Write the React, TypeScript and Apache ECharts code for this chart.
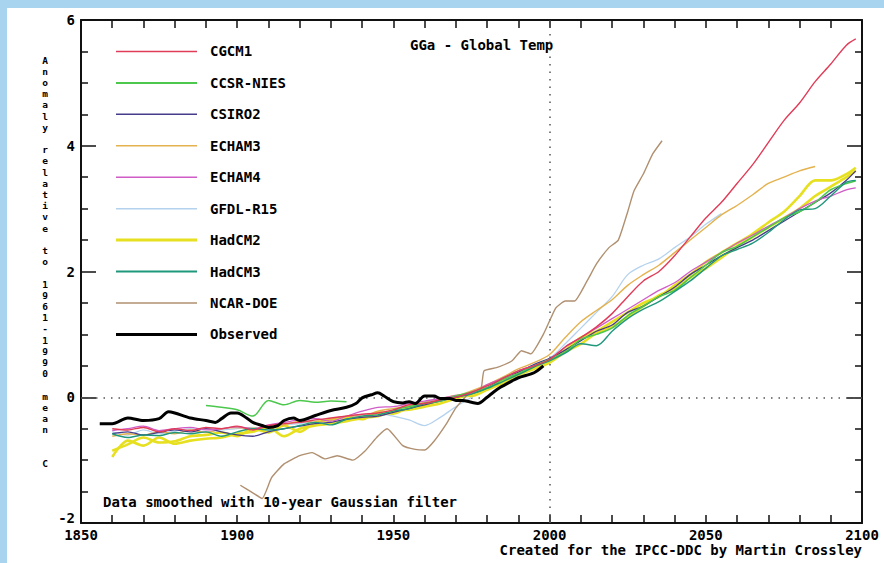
import React, { useEffect, useRef } from "react";
import * as echarts from "echarts";

// ---------- data ----------
const modelYears = [
  1860, 1865, 1870, 1875, 1880, 1885, 1890, 1895, 1900, 1905,
  1910, 1915, 1920, 1925, 1930, 1935, 1940, 1945, 1950, 1955,
  1960, 1965, 1970, 1975, 1980, 1985, 1990, 1995, 2000, 2005,
  2010, 2015, 2020, 2025, 2030, 2035, 2040, 2045, 2050, 2055,
  2060, 2065, 2070, 2075, 2080, 2085, 2090, 2095, 2098,
];

const cgcm1 = [
  -0.5, -0.52, -0.48, -0.55, -0.5, -0.53, -0.48, -0.5, -0.46, -0.52,
  -0.45, -0.42, -0.4, -0.36, -0.33, -0.3, -0.27, -0.25, -0.2, -0.12,
  -0.1, -0.04, 0.0, 0.08, 0.18, 0.3, 0.42, 0.5, 0.6, 0.8,
  0.95, 1.12, 1.33, 1.6, 1.85, 2.0, 2.25, 2.55, 2.85, 3.1,
  3.4, 3.7, 4.05, 4.4, 4.68, 5.02, 5.3, 5.6, 5.7,
];
const ccsrNies = [
  null, null, null, null, null, null, -0.13, -0.16, -0.2, -0.3,
  -0.05, -0.12, -0.05, -0.08, -0.06, -0.07, null, null, -0.2, -0.15,
  -0.1, -0.06, 0.02, 0.08, 0.15, 0.28, 0.38, 0.5, 0.6, 0.72,
  0.92, 1.0, 1.1, 1.3, 1.45, 1.6, 1.7, 1.9, 2.1, 2.3,
  2.4, 2.55, 2.7, 2.85, 2.95, 3.1, 3.3, 3.4, 3.44,
];
const csiro2 = [
  -0.58, -0.55, -0.6, -0.56, -0.52, -0.55, -0.5, -0.55, -0.6, -0.62,
  -0.55, -0.5, -0.46, -0.42, -0.4, -0.35, -0.32, -0.3, -0.24, -0.18,
  -0.12, -0.06, 0.0, 0.06, 0.15, 0.3, 0.4, 0.52, 0.62, 0.75,
  0.9, 1.05, 1.15, 1.35, 1.45, 1.6, 1.75, 1.95, 2.1, 2.25,
  2.38, 2.5, 2.65, 2.8, 2.95, 3.1, 3.25, 3.45, 3.6,
];
const echam3 = [
  -0.62, -0.58, -0.6, -0.55, -0.58, -0.52, -0.56, -0.5, -0.48, -0.5,
  -0.46, -0.44, -0.38, -0.4, -0.35, -0.3, -0.3, -0.22, -0.18, -0.14,
  -0.08, -0.02, 0.02, 0.1, 0.2, 0.32, 0.45, 0.55, 0.68, 0.95,
  1.2, 1.38, 1.55, 1.78, 1.95, 2.1, 2.3, 2.5, 2.7, 2.9,
  3.05, 3.22, 3.4, 3.5, 3.6, 3.67, null, null, null,
];
const echam4 = [
  -0.53, -0.5, -0.46, -0.53, -0.5, -0.48, -0.52, -0.5, -0.47, -0.5,
  -0.44, -0.4, -0.36, -0.34, -0.38, -0.3, -0.22, -0.16, -0.15, -0.1,
  -0.06, -0.02, 0.03, 0.06, 0.2, 0.3, 0.42, 0.5, 0.6, 0.8,
  0.95, 1.1, 1.25, 1.4, 1.55, 1.7, 1.82, 2.0, 2.15, 2.3,
  2.45, 2.58, 2.72, 2.85, 3.0, 3.12, 3.2, 3.3, 3.33,
];
const gfdlR15 = [
  -0.55, -0.6, -0.52, -0.58, -0.54, -0.5, -0.55, -0.52, -0.5, -0.48,
  -0.5, -0.44, -0.42, -0.38, -0.36, -0.32, -0.28, -0.26, -0.3, -0.36,
  -0.45, -0.32, -0.15, 0.0, 0.15, 0.28, 0.4, 0.52, 0.62, 0.85,
  1.1, 1.35, 1.6, 1.95, 2.1, 2.2, 2.38, 2.55, 2.75, 2.92,
  null, null, null, null, null, null, null, null, null,
];
const hadcm2a = [
  -0.95, -0.69, -0.77, -0.64, -0.74, -0.69, -0.66, -0.64, -0.58, -0.55,
  -0.48, -0.62, -0.5, -0.45, -0.42, -0.38, -0.33, -0.3, -0.22, -0.2,
  -0.15, -0.1, -0.02, 0.05, 0.15, 0.25, 0.38, 0.48, 0.6, 0.75,
  0.95, 1.05, 1.2, 1.35, 1.5, 1.6, 1.78, 1.95, 2.15, 2.3,
  2.45, 2.6, 2.78, 2.95, 3.2, 3.45, 3.45, 3.55, 3.65,
];
const hadcm2b = [
  -0.85, -0.75, -0.64, -0.72, -0.7, -0.62, -0.6, -0.56, -0.62, -0.5,
  -0.56, -0.45, -0.55, -0.4, -0.36, -0.32, -0.35, -0.24, -0.26, -0.16,
  -0.12, -0.05, 0.02, 0.02, 0.12, 0.22, 0.35, 0.45, 0.55, 0.72,
  0.85, 1.02, 1.12, 1.28, 1.45, 1.62, 1.72, 1.9, 2.05, 2.22,
  2.4, 2.55, 2.7, 2.85, 3.0, 3.2, 3.35, 3.5, 3.6,
];
const hadcm3 = [
  -0.58, -0.64, -0.6, -0.61, -0.56, -0.58, -0.55, -0.62, -0.55, -0.5,
  -0.52, -0.5, -0.45, -0.4, -0.44, -0.35, -0.3, -0.28, -0.22, -0.18,
  -0.1, -0.05, 0.0, 0.05, 0.14, 0.25, 0.36, 0.48, 0.58, 0.7,
  0.85, 0.82, 1.05, 1.25, 1.4, 1.52, 1.68, 1.85, 2.05, 2.25,
  2.35, 2.45, 2.62, 2.82, 2.98, 3.0, 3.2, 3.42, 3.45,
];

const ncarYears = [
  1901, 1905, 1908, 1911, 1915, 1920, 1924, 1928, 1932, 1937,
  1941, 1945, 1948, 1953, 1957, 1960, 1963, 1967, 1970, 1974,
  1978, 1979, 1983, 1988, 1991, 1994, 1998, 2002, 2005, 2008,
  2012, 2015, 2019, 2022, 2025, 2027, 2030, 2033, 2036,
];
const ncarDoe = [
  -1.4, -1.52, -1.61, -1.28, -1.06, -0.93, -0.88, -0.98, -0.93, -1.0,
  -0.85, -0.62, -0.5, -0.77, -0.83, -0.84, -0.7, -0.42, -0.17, 0.05,
  0.13, 0.42, 0.47, 0.58, 0.74, 0.69, 1.0, 1.42, 1.53, 1.53,
  1.85, 2.12, 2.38, 2.5, 2.95, 3.28, 3.55, 3.87, 4.08,
];

const obsYears = [
  1856, 1860, 1865, 1870, 1875, 1878, 1880, 1885, 1890, 1893,
  1895, 1898, 1900, 1903, 1905, 1908, 1910, 1913, 1915, 1918,
  1920, 1925, 1930, 1935, 1938, 1940, 1943, 1945, 1947, 1950,
  1953, 1955, 1957, 1960, 1963, 1965, 1968, 1970, 1972, 1975,
  1977, 1980, 1982, 1984, 1988, 1990, 1995, 1998,
];
const observed = [
  -0.42, -0.42, -0.33, -0.37, -0.34, -0.23, -0.25, -0.33, -0.37, -0.4,
  -0.34, -0.25, -0.25, -0.33, -0.4, -0.45, -0.48, -0.45, -0.37, -0.33,
  -0.37, -0.29, -0.21, -0.16, -0.1, -0.01, 0.04, 0.07, 0.02, -0.07,
  -0.09, -0.07, -0.1, 0.02, 0.02, -0.02, -0.02, -0.05, -0.05, -0.08,
  -0.1, 0.0, 0.08, 0.15, 0.26, 0.31, 0.39, 0.5,
];

const legendNames = [
  "CGCM1", "CCSR-NIES", "CSIRO2", "ECHAM3", "ECHAM4",
  "GFDL-R15", "HadCM2", "HadCM3", "NCAR-DOE", "Observed",
];
const legendColors = [
  "#e03c58", "#4cc84c", "#463c8c", "#e4b24e", "#d05cc8",
  "#b4d2ee", "#e6e020", "#20987c", "#b09070", "#000000",
];
const legendWidths = [1.5, 2, 1.5, 1.5, 1.5, 1.5, 3, 2, 1.5, 3];

const xTicks = { min: 1850, max: 2100, interval: 50 };
const yTicks = { min: -2, max: 6, interval: 2 };

const yTitleText = "Anomaly relative to 1961-1990 mean  C";

const FONT = '"DejaVu Sans Mono", monospace';

const pairs = (xs: number[], ys: (number | null)[]) =>
  xs.map((x, i) => [x, ys[i] == null ? "-" : ys[i]]);

export default function App() {
  const ref = useRef<HTMLDivElement>(null);

  useEffect(() => {
    if (!ref.current) return;
    const chart = echarts.init(ref.current, undefined, { renderer: "svg" });

    const gridLeft = 74;
    const gridTop = 12;
    const gridRight = 22;
    const gridBottom = 40;
    const W = 877;
    const H = 555;
    const plotH = H - gridTop - gridBottom;
    const yPix = (v: number) =>
      gridTop + ((yTicks.max - v) / (yTicks.max - yTicks.min)) * plotH;

    const modelSeries = (
      name: string,
      vals: (number | null)[],
      color: string,
      width: number,
      xs: number[] = modelYears,
      smooth = 0.3
    ) => ({
      name,
      type: "line",
      data: pairs(xs, vals),
      showSymbol: false,
      symbol: "none",
      smooth,
      connectNulls: false,
      lineStyle: { color, width },
      itemStyle: { color },
      z: 3,
    });

    const c = legendColors;
    const series: any[] = [
      modelSeries("GFDL-R15", gfdlR15, c[5], 1.3),
      modelSeries("HadCM2", hadcm2a, c[6], 2.6),
      modelSeries("HadCM2", hadcm2b, c[6], 2.6),
      modelSeries("ECHAM3", echam3, c[3], 1.4),
      modelSeries("NCAR-DOE", ncarDoe, c[8], 1.4, ncarYears, 0.15),
      modelSeries("CSIRO2", csiro2, c[2], 1.3),
      modelSeries("ECHAM4", echam4, c[4], 1.3),
      modelSeries("CCSR-NIES", ccsrNies, c[1], 1.5),
      modelSeries("HadCM3", hadcm3, c[7], 1.4),
      modelSeries("CGCM1", cgcm1, c[0], 1.4),
      {
        name: "Observed",
        type: "line",
        data: pairs(obsYears, observed),
        showSymbol: false,
        symbol: "none",
        smooth: 0.3,
        lineStyle: { color: "#000", width: 3 },
        z: 4,
        markLine: {
          silent: true,
          symbol: "none",
          label: { show: false },
          lineStyle: { color: "#555", width: 1.5, type: [1.5, 6] },
          data: [{ yAxis: 0 }, { xAxis: 2000 }],
          z: 1,
        },
      },
    ];

    const textStyle = (text: string, align: string, size = 14) => ({
      text,
      fill: "#000",
      font: `bold ${size}px ${FONT}`,
      align,
      verticalAlign: "middle",
      textAlign: align,
      textVerticalAlign: "middle",
    });

    const legendGraphics: any[] = [];
    legendNames.forEach((name, i) => {
      const y = yPix(5.5 - i * 0.5);
      legendGraphics.push({
        type: "line",
        shape: { x1: 109, y1: y, x2: 190, y2: y },
        style: { stroke: legendColors[i], lineWidth: legendWidths[i] },
      });
      legendGraphics.push({
        type: "text",
        x: 203,
        y: y,
        style: textStyle(name, "left"),
      });
    });

    // vertical stacked y-axis title, one character per element
    const titleGraphics: any[] = [];
    yTitleText.split("").forEach((ch, i) => {
      if (ch === " ") return;
      titleGraphics.push({
        type: "text",
        x: 38,
        y: 52 + i * 11.2,
        style: textStyle(ch, "center", 9.5),
      });
    });

    const axisCommon = {
      type: "value",
      axisLine: { show: true, onZero: false, lineStyle: { color: "#111", width: 2 } },
      splitLine: { show: false },
    };
    const tickStyle = { color: "#111", width: 1.5 };
    const labelFont = {
      color: "#000",
      fontFamily: FONT,
      fontWeight: "bold",
      fontSize: 14,
    };

    chart.setOption({
      animation: false,
      backgroundColor: "#ffffff",
      grid: {
        left: gridLeft,
        top: gridTop,
        right: gridRight,
        bottom: gridBottom,
        containLabel: false,
      },
      xAxis: [
        {
          ...axisCommon,
          position: "bottom",
          min: xTicks.min,
          max: xTicks.max,
          interval: xTicks.interval,
          axisTick: { show: true, inside: true, length: 8, lineStyle: tickStyle },
          minorTick: { show: true, splitNumber: 5, length: 8, lineStyle: tickStyle },
          axisLabel: {
            show: true,
            margin: 5,
            ...labelFont,
            showMinLabel: true,
            showMaxLabel: true,
            formatter: (v: number) => String(v),
          },
        },
        {
          ...axisCommon,
          position: "top",
          min: xTicks.min,
          max: xTicks.max,
          interval: xTicks.interval,
          axisTick: { show: true, inside: true, length: 8, lineStyle: tickStyle },
          minorTick: { show: true, splitNumber: 5, length: 8, lineStyle: tickStyle },
          axisLabel: { show: false },
        },
      ],
      yAxis: [
        {
          ...axisCommon,
          position: "left",
          min: yTicks.min,
          max: yTicks.max,
          interval: yTicks.interval,
          axisTick: { show: true, inside: true, length: 15, lineStyle: tickStyle },
          minorTick: { show: true, splitNumber: 4, length: 7, lineStyle: tickStyle },
          axisLabel: {
            show: true,
            margin: 6,
            ...labelFont,
            formatter: (v: number) => (v === yTicks.min ? `{lo|${v}}` : String(v)),
            rich: { lo: { ...labelFont, padding: [0, 0, 10, 0] } },
          },
        },
        {
          ...axisCommon,
          position: "right",
          min: yTicks.min,
          max: yTicks.max,
          interval: yTicks.interval,
          axisTick: { show: true, inside: true, length: 15, lineStyle: tickStyle },
          minorTick: { show: true, splitNumber: 4, length: 7, lineStyle: tickStyle },
          axisLabel: { show: false },
        },
      ],
      graphic: [
        ...legendGraphics,
        ...titleGraphics,
        { type: "text", x: 403, y: 37, style: textStyle("GGa - Global Temp", "left") },
        {
          type: "text",
          x: 96,
          y: 494,
          style: textStyle("Data smoothed with 10-year Gaussian filter", "left"),
        },
        {
          type: "text",
          x: W - 22,
          y: 542,
          style: textStyle("Created for the IPCC-DDC by Martin Crossley", "right"),
        },
      ],
      series,
    });

    return () => chart.dispose();
  }, []);

  return (
    <div
      style={{
        position: "absolute",
        left: 0,
        top: 0,
        width: 884,
        height: 563,
        background: "#ffffff",
        overflow: "hidden",
      }}
    >
      <div style={{ position: "absolute", left: 0, top: 0, width: 884, height: 8, background: "#a8d4f0" }} />
      <div style={{ position: "absolute", left: 0, top: 0, width: 7, height: 563, background: "#a8d4f0" }} />
      <div
        ref={ref}
        style={{ position: "absolute", left: 7, top: 8, width: 877, height: 555 }}
      />
    </div>
  );
}
